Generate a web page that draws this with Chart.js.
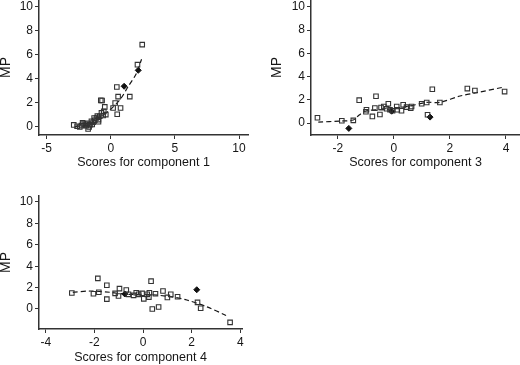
<!DOCTYPE html>
<html><head><meta charset="utf-8">
<script src="https://cdn.jsdelivr.net/npm/chart.js@4/dist/chart.umd.min.js"></script>
<style>
html,body{margin:0;padding:0;background:#fff;}
body{width:520px;height:365px;position:relative;overflow:hidden;}
canvas{position:absolute;}
</style></head><body>
<canvas id="c1" width="260" height="180" style="left:0;top:0"></canvas>
<canvas id="c3" width="260" height="180" style="left:260px;top:0"></canvas>
<canvas id="c4" width="260" height="180" style="left:0;top:185px"></canvas>
<script>
// ---- tick labels ----
const yTicks = [0, 2, 4, 6, 8, 10];
const c1Ticks = [-5, 0, 5, 10];
const c3Ticks = [-2, 0, 2, 4];
const c4Ticks = [-4, -2, 0, 2, 4];
const yTitle = 'MP';
const c1Title = 'Scores for component 1';
const c3Title = 'Scores for component 3';
const c4Title = 'Scores for component 4';

// ---- component 1 ----
const c1X = [2.45, 2.08, 0.47, 1.48, 0.57, -0.78, -0.68, 0.34, 0.18, 0.76, 0.5, -0.47, -0.55, -0.39, -0.73, -0.86, -0.96, -1.12, -1.25, -1.38, -1.51, -1.59, -1.69, -1.77, -1.9, -2.16, -2.29, -2.42, -2.63, -2.89, -0.96, -1.3, -0.6, -1.05, -1.8, -2.0, -1.45, -2.2];
const c1Y = [6.86, 5.19, 3.33, 2.53, 2.53, 2.22, 2.2, 2.0, 1.58, 1.58, 1.06, 1.67, 1.3, 1.03, 1.17, 0.89, 0.61, 0.75, 0.56, 0.39, 0.47, 0.19, 0.0, -0.17, 0.11, 0.25, 0.11, 0.0, 0.06, 0.17, 0.44, 0.75, 0.95, 0.9, 0.3, 0.2, 0.2, 0.35];
const c1FilledX = [1.04, 2.14];
const c1FilledY = [3.39, 4.72];
const c1FitX = [-2.81, -1.9, -0.86, -0.08, 0.7, 1.35, 2.0, 2.4];
const c1FitY = [0.03, 0.17, 0.81, 1.42, 2.25, 3.36, 4.47, 5.64];

// ---- component 3 ----
const c3X = [-2.73, -1.86, -1.45, -1.24, -0.98, -1.0, -0.64, -0.68, -0.77, -0.5, -0.46, -0.36, -0.2, -0.26, -0.14, -0.05, 0.1, 0.12, 0.27, 0.33, 0.45, 0.6, 0.63, 0.99, 1.17, 1.2, 1.37, 1.64, 2.62, 2.89, 3.95];
const c3Y = [0.46, 0.2, 0.23, 1.97, 1.14, 0.97, 2.31, 1.29, 0.57, 0.74, 1.34, 1.43, 1.66, 1.23, 1.14, 1.06, 1.43, 1.14, 1.06, 1.57, 1.37, 1.29, 1.43, 1.66, 1.77, 0.71, 2.91, 1.77, 2.97, 2.8, 2.71];
const c3FilledX = [-1.61, 1.29, -0.08];
const c3FilledY = [-0.46, 0.51, 1.02];
const c3FitX = [-2.7, -1.93, -1.45, -1.24, -0.98, -0.26, 0.45, 1.17, 1.64, 2.36, 2.95, 3.92];
const c3FitY = [0.08, 0.17, 0.26, 0.69, 1.06, 1.18, 1.41, 1.78, 1.78, 2.33, 2.61, 3.1];

// ---- component 4 ----
const c4X = [-2.93, -2.04, -1.86, -1.82, -1.49, -1.49, -1.15, -1.01, -0.97, -0.69, -0.6, -0.39, -0.28, -0.18, -0.04, 0.03, 0.17, 0.24, 0.33, 0.26, 0.51, 0.38, 0.64, 0.82, 1.0, 1.14, 1.42, 2.24, 2.37, 3.58];
const c4Y = [1.49, 1.43, 2.86, 1.56, 2.22, 0.92, 1.46, 1.21, 1.9, 1.78, 1.37, 1.27, 1.52, 1.37, 1.46, 0.95, 1.37, 1.11, 2.6, 1.52, 1.43, 0.0, 0.19, 1.68, 1.08, 1.37, 1.14, 0.62, 0.07, -1.25];
const c4FilledX = [2.21, -0.75];
const c4FilledY = [1.8, 1.4];
const c4FitX = [-2.89, -2.18, -1.36, -0.67, 0.15, 1.11, 1.8, 2.62, 3.37, 3.51];
const c4FitY = [1.56, 1.68, 1.56, 1.37, 1.37, 1.15, 0.84, 0.21, -0.56, -0.78];

const zip = (xs, ys) => xs.map((x, i) => ({x: x, y: ys[i]}));
const FAM = "'Liberation Sans', Arial, sans-serif";
const TICKFONT = {family: FAM, size: 12};
const XTITLEFONT = {family: FAM, size: 12.5, lineHeight: 1};
const YTITLEFONT = {family: FAM, size: 14, lineHeight: 1};
const INK = '#161616';

function makeChart(id, cfg) {
  new Chart(document.getElementById(id), {
    type: 'scatter',
    data: {datasets: [
      {data: zip(cfg.px, cfg.py), pointStyle: 'rect', pointRadius: 3.2, borderColor: '#333', borderWidth: 1.1, backgroundColor: 'rgba(255,255,255,0)'},
      {data: zip(cfg.fx, cfg.fy), pointStyle: 'rectRot', pointRadius: 3, borderColor: '#111', backgroundColor: '#111', borderWidth: 1},
      {data: zip(cfg.lx, cfg.ly), showLine: true, pointRadius: 0, borderColor: INK, borderWidth: 1.2, borderDash: [5, 3], tension: 0.3, fill: false}
    ]},
    options: {
      responsive: false, animation: false, devicePixelRatio: 1,
      layout: {autoPadding: false, padding: {top: cfg.top, right: cfg.right, left: 0, bottom: 0}},
      plugins: {legend: {display: false}, tooltip: {enabled: false}},
      scales: {
        x: {
          type: 'linear', position: 'bottom', min: cfg.xmin, max: cfg.xmax,
          afterBuildTicks: s => { s.ticks = cfg.xt.map(v => ({value: v})); },
          afterFit: s => { s.height = cfg.xh; s.paddingLeft = 0; s.paddingRight = 0; },
          grid: {drawOnChartArea: false, drawTicks: true, tickLength: 4, color: '#333', lineWidth: 1},
          border: {display: true, color: '#333', width: 1.5},
          ticks: {font: TICKFONT, color: INK, padding: 2, maxRotation: 0, autoSkip: false},
          title: {display: true, text: cfg.xtitle, font: XTITLEFONT, color: INK, padding: {top: 0, bottom: cfg.xtb}}
        },
        y: {
          type: 'linear', position: 'left', min: cfg.ymin, max: cfg.ymax,
          afterBuildTicks: s => { s.ticks = yTicks.map(v => ({value: v})); },
          afterFit: s => { s.width = cfg.yw; s.paddingTop = 0; s.paddingBottom = 0; },
          grid: {drawOnChartArea: false, drawTicks: true, tickLength: 4, color: '#333', lineWidth: 1},
          border: {display: true, color: '#333', width: 1.5},
          ticks: {font: TICKFONT, color: INK, padding: 2, autoSkip: false},
          title: {display: true, text: yTitle, font: YTITLEFONT, color: INK, padding: {top: cfg.ytp, bottom: 0}}
        }
      }
    }
  });
}

makeChart('c1', {px: c1X, py: c1Y, fx: c1FilledX, fy: c1FilledY, lx: c1FitX, ly: c1FitY,
  xt: c1Ticks, xtitle: c1Title, xmin: -5.6, xmax: 10.7, ymin: -0.67, ymax: 10.58,
  top: 0, right: 12, xh: 45, yw: 39, xtb: 11, ytp: -1});
makeChart('c3', {px: c3X, py: c3Y, fx: c3FilledX, fy: c3FilledY, lx: c3FitX, ly: c3FitY,
  xt: c3Ticks, xtitle: c3Title, xmin: -2.96, xmax: 4.5, ymin: -1.03, ymax: 10.6,
  top: 0, right: 0, xh: 45, yw: 51, xtb: 11, ytp: 10});
makeChart('c4', {px: c4X, py: c4Y, fx: c4FilledX, fy: c4FilledY, lx: c4FitX, ly: c4FitY,
  xt: c4Ticks, xtitle: c4Title, xmin: -4.28, xmax: 4.07, ymin: -1.87, ymax: 10.56,
  top: 11, right: 18, xh: 36, yw: 39, xtb: 1, ytp: -1});
</script>
</body></html>
